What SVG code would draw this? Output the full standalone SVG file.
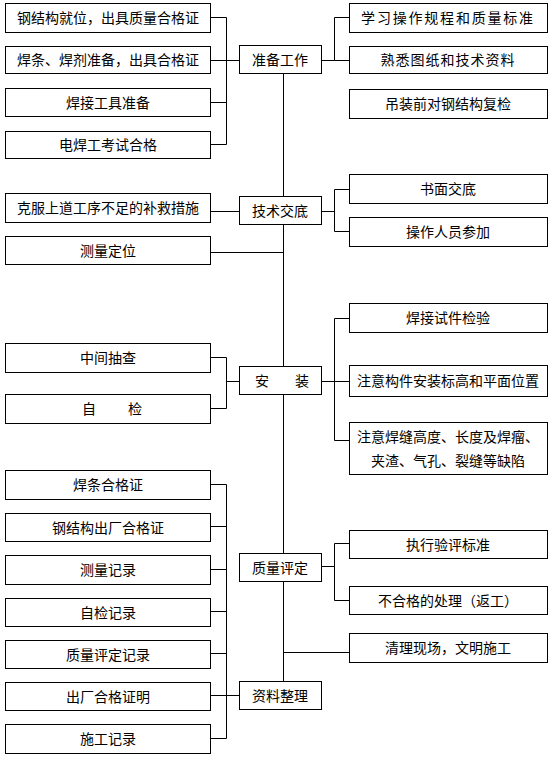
<svg xmlns="http://www.w3.org/2000/svg" width="554" height="757" viewBox="0 0 554 757">
<style>
rect{fill:#fff;stroke:#000;stroke-width:1}
text{font-family:"Noto Sans CJK SC","Liberation Sans",sans-serif;font-size:14px;fill:#000;text-anchor:middle}
.c path{fill:none;stroke:#000;stroke-width:1}
</style>
<rect x="0" y="0" width="554" height="757" style="stroke:none"/>
<g class="c" id="connectors">
<path d="M211 17.5H226.5V144.5H211M211 60.5H239M211 102.5H226.5"/>
<path d="M321 60.5H334.5M349 17.5H334.5V60.5H349"/>
<path d="M283.5 73V681"/>
<path d="M211 211.5H239M211 252.5H283.5"/>
<path d="M321 211.5H334.5M349 189.5H334.5V231.5H349"/>
<path d="M211 357.5H226.5V408.5H211M226.5 381.5H239"/>
<path d="M321 381.5H349M349 318.5H334.5V440.5H349"/>
<path d="M321 566.5H334.5M349 543.5H334.5V600.5H349"/>
<path d="M283.5 652.5H349"/>
<path d="M211 484.5H226.5V738.5H211M211 526.5H226.5M211 569.5H226.5M211 611.5H226.5M211 653.5H226.5M211 695.5H239"/>
</g>
<g id="n1"><rect x="5.5" y="3.5" width="205" height="29"/><text x="108" y="23">钢结构就位，出具质量合格证</text></g>
<g id="n2"><rect x="5.5" y="46.5" width="205" height="27"/><text x="108" y="65">焊条、焊剂准备，出具合格证</text></g>
<g id="n3"><rect x="5.5" y="88.5" width="205" height="28"/><text x="108" y="108">焊接工具准备</text></g>
<g id="n4"><rect x="5.5" y="131.5" width="205" height="27"/><text x="108" y="150">电焊工考试合格</text></g>
<g id="zhunbei"><rect x="239.5" y="45.5" width="82" height="28"/><text x="280" y="65">准备工作</text></g>
<g id="r1"><rect x="349.5" y="3.5" width="198" height="29"/><text x="448" y="23" letter-spacing="1.8">学习操作规程和质量标准</text></g>
<g id="r2"><rect x="349.5" y="46.5" width="198" height="27"/><text x="448" y="65" letter-spacing="1">熟悉图纸和技术资料</text></g>
<g id="r3"><rect x="349.5" y="89.5" width="198" height="29"/><text x="448" y="109">吊装前对钢结构复检</text></g>
<g id="n5"><rect x="5.5" y="193.5" width="205" height="29"/><text x="108" y="213">克服上道工序不足的补救措施</text></g>
<g id="jishu"><rect x="239.5" y="196.5" width="82" height="28"/><text x="280" y="216">技术交底</text></g>
<g id="r4"><rect x="349.5" y="174.5" width="198" height="29"/><text x="448" y="194">书面交底</text></g>
<g id="r5"><rect x="349.5" y="217.5" width="198" height="29"/><text x="448" y="237">操作人员参加</text></g>
<g id="n6"><rect x="5.5" y="236.5" width="205" height="28"/><text x="108" y="256">测量定位</text></g>
<g id="n7"><rect x="5.5" y="343.5" width="205" height="29"/><text x="108" y="363">中间抽查</text></g>
<g id="n8"><rect x="5.5" y="394.5" width="205" height="29"/><text x="89" y="414">自</text><text x="135" y="414">检</text></g>
<g id="anzhuang"><rect x="239.5" y="366.5" width="82" height="28"/><text x="262" y="386">安</text><text x="302" y="386">装</text></g>
<g id="r6"><rect x="349.5" y="303.5" width="198" height="29"/><text x="448" y="323">焊接试件检验</text></g>
<g id="r7"><rect x="349.5" y="365.5" width="198" height="31"/><text x="448" y="386">注意构件安装标高和平面位置</text></g>
<g id="r8"><rect x="349.5" y="422.5" width="198" height="52"/><text x="448" y="442">注意焊缝高度、长度及焊瘤、</text><text x="448" y="466">夹渣、气孔、裂缝等缺陷</text></g>
<g id="n9"><rect x="5.5" y="470.5" width="205" height="29"/><text x="108" y="490">焊条合格证</text></g>
<g id="n10"><rect x="5.5" y="513.5" width="205" height="28"/><text x="108" y="533">钢结构出厂合格证</text></g>
<g id="n11"><rect x="5.5" y="555.5" width="205" height="29"/><text x="108" y="575">测量记录</text></g>
<g id="n12"><rect x="5.5" y="598.5" width="205" height="28"/><text x="108" y="618">自检记录</text></g>
<g id="n13"><rect x="5.5" y="640.5" width="205" height="28"/><text x="108" y="660">质量评定记录</text></g>
<g id="n14"><rect x="5.5" y="682.5" width="205" height="28"/><text x="108" y="702">出厂合格证明</text></g>
<g id="n15"><rect x="5.5" y="724.5" width="205" height="29"/><text x="108" y="744">施工记录</text></g>
<g id="zhiliang"><rect x="239.5" y="553.5" width="82" height="28"/><text x="280" y="573">质量评定</text></g>
<g id="r9"><rect x="349.5" y="530.5" width="198" height="28"/><text x="448" y="550">执行验评标准</text></g>
<g id="r10"><rect x="349.5" y="586.5" width="198" height="28"/><text x="448" y="606">不合格的处理（返工）</text></g>
<g id="r11"><rect x="349.5" y="633.5" width="198" height="29"/><text x="448" y="653">清理现场，文明施工</text></g>
<g id="ziliao"><rect x="239.5" y="681.5" width="82" height="28"/><text x="280" y="701">资料整理</text></g>
</svg>
